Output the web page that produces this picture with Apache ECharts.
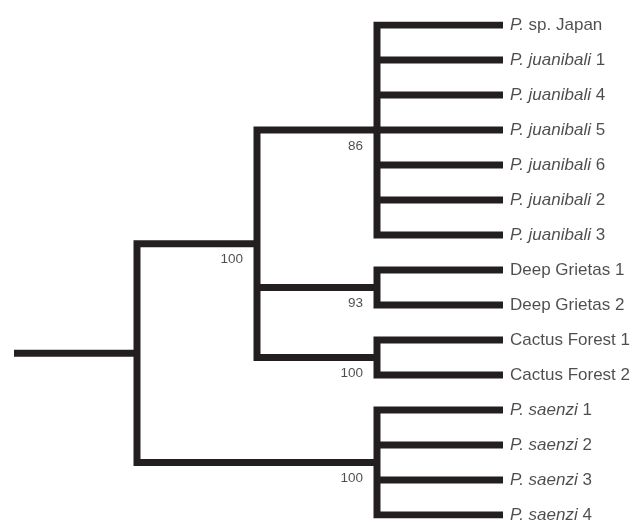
<!DOCTYPE html>
<html>
<head>
<meta charset="utf-8">
<script src="https://cdn.jsdelivr.net/npm/echarts@6/dist/echarts.min.js"></script>
<style>
html,body{margin:0;padding:0;background:#fff;}
#c{width:638px;height:522px;}
</style>
</head>
<body>
<div id="c"></div>
<script>
// Leaves (top to bottom): italic part and plain part of each label
const leafItalic = ['P.', 'P. juanibali', 'P. juanibali', 'P. juanibali', 'P. juanibali', 'P. juanibali', 'P. juanibali',
  '', '', '', '', 'P. saenzi', 'P. saenzi', 'P. saenzi', 'P. saenzi'];
const leafPlain = [' sp. Japan', ' 1', ' 4', ' 5', ' 6', ' 2', ' 3',
  'Deep Grietas 1', 'Deep Grietas 2', 'Cactus Forest 1', 'Cactus Forest 2', ' 1', ' 2', ' 3', ' 4'];
// Internal nodes: id, depth, children (numbers = leaf index, strings = node id), support value
const nodeIds = ['root', 'ingroup', 'juanibali', 'grietas', 'cactus', 'saenzi'];
const nodeDepth = [1, 2, 3, 3, 3, 3];
const nodeChildren = [
  ['ingroup', 'saenzi'],
  ['juanibali', 'grietas', 'cactus'],
  [0, 1, 2, 3, 4, 5, 6],
  [7, 8],
  [9, 10],
  [11, 12, 13, 14]
];
const nodeSupport = ['', '100', '86', '93', '100', '100'];
const leafDepth = 4.05;
const stemStart = -0.025;

const INK = '#231f20';
const FONT = '"Liberation Sans", Arial, Helvetica, sans-serif';

function nodeIndex(id) { return nodeIds.indexOf(id); }
function posOf(c) {
  if (typeof c === 'number') return { x: leafDepth, y: c };
  const i = nodeIndex(c);
  const ys = nodeChildren[i].map(ch => posOf(ch).y);
  return { x: nodeDepth[i], y: (Math.min(...ys) + Math.max(...ys)) / 2 };
}

const segs = [];
const rootPos = posOf('root');
segs.push({ coords: [[stemStart, rootPos.y], [rootPos.x, rootPos.y]] });
nodeIds.forEach((id, i) => {
  const p = posOf(id);
  const kids = nodeChildren[i].map(posOf);
  const first = kids[0], last = kids[kids.length - 1];
  segs.push({ coords: [[first.x, first.y], [p.x, first.y], [p.x, last.y], [last.x, last.y]] });
  kids.slice(1, -1).forEach(k => segs.push({ coords: [[p.x, k.y], [k.x, k.y]] }));
});

const leafData = leafPlain.map((t, i) => ({
  value: [leafDepth, i],
  label: { formatter: (leafItalic[i] ? '{i|' + leafItalic[i] + '}' : '') + '{n|' + t + '}' }
}));
const supportData = nodeIds.map((id, i) => {
  const p = posOf(id);
  return { value: [p.x, p.y], label: { formatter: nodeSupport[i] } };
}).filter((d, i) => nodeSupport[i] !== '');

const chart = echarts.init(document.getElementById('c'), null, { renderer: 'canvas' });
chart.setOption({
  backgroundColor: '#ffffff',
  animation: false,
  grid: { left: 14, right: 135, top: 25, bottom: 7 },
  xAxis: { type: 'value', min: stemStart, max: leafDepth, show: false },
  yAxis: { type: 'value', min: 0, max: 14, inverse: true, show: false },
  series: [
    {
      type: 'lines',
      coordinateSystem: 'cartesian2d',
      polyline: true,
      silent: true,
      data: segs,
      lineStyle: { color: INK, width: 7, opacity: 1, cap: 'butt', join: 'miter' }
    },
    {
      type: 'scatter',
      symbolSize: 0,
      silent: true,
      data: leafData,
      label: {
        show: true,
        position: [7, 0],
        align: 'left',
        verticalAlign: 'middle',
        color: INK,
        fontFamily: FONT,
        fontSize: 17,
        rich: {
          i: { fontStyle: 'italic', fontSize: 17, fontFamily: FONT, color: INK },
          n: { fontSize: 17, fontFamily: FONT, color: INK }
        }
      }
    },
    {
      type: 'scatter',
      symbolSize: 0,
      silent: true,
      data: supportData,
      label: {
        show: true,
        position: [-14, 16],
        align: 'right',
        verticalAlign: 'middle',
        color: INK,
        fontFamily: FONT,
        fontSize: 13.5
      }
    }
  ]
});
</script>
</body>
</html>
